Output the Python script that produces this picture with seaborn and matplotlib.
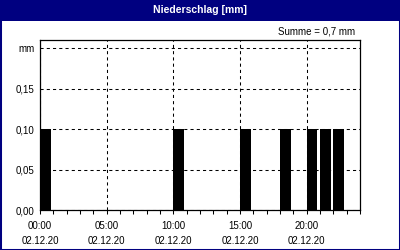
import numpy as np
import pandas as pd
import matplotlib
matplotlib.use("Agg")
import matplotlib.pyplot as plt
from matplotlib.patches import Rectangle
import seaborn as sns

# ---- data ----
hours = [0, 10, 15, 18, 20, 21, 22]          # start hour of each rain interval
precip = [0.1, 0.1, 0.1, 0.1, 0.1, 0.1, 0.1]  # mm per hour
x_tick_hours = [0, 5, 10, 15, 20]
x_tick_labels = ["00:00\n02.12.20", "05:00\n02.12.20", "10:00\n02.12.20",
                 "15:00\n02.12.20", "20:00\n02.12.20"]
y_ticks = [0.0, 0.05, 0.10, 0.15, 0.20]
y_tick_labels = ["0,00", "0,05", "0,10", "0,15", "mm"]
title = "Niederschlag [mm]"
sum_label = "Summe = 0,7 mm"

sns.set_style("white")
plt.rcParams["font.family"] = ["Liberation Sans", "DejaVu Sans"]

NAVY = "#000080"
fig = plt.figure(figsize=(4, 2.5), dpi=100)
fig.patch.set_facecolor("white")

# title bar + border
fig.patches.append(Rectangle((0, 1 - 21 / 250), 1, 21 / 250, transform=fig.transFigure,
                             facecolor=NAVY, edgecolor="none", zorder=0))
fig.patches.append(Rectangle((0, 0), 1, 1, transform=fig.transFigure, fill=False,
                             edgecolor=NAVY, linewidth=2.2, zorder=1))
fig.text(0.5, 1 - 10 / 250, title, color="white", fontweight="bold", fontsize=7.5,
         ha="center", va="center")
fig.text(355 / 400, 1 - 31 / 250, sum_label, ha="right", va="center", fontsize=7,
         color="black")

ax = fig.add_axes([40 / 400, 40 / 250, 320 / 400, 170 / 250])
df = pd.DataFrame({"hour": np.array(hours) + 0.4, "mm": precip})
sns.barplot(data=df, x="hour", y="mm", native_scale=True, color="black",
            saturation=1, errorbar=None, linewidth=0, orient="x", ax=ax)

ax.set_xlim(0, 24)
ax.set_ylim(0, 0.2104)
ax.set_xticks(x_tick_hours)
ax.set_xticklabels(x_tick_labels, linespacing=1.6)
ax.set_xticks(range(25), minor=True)
ax.tick_params(axis="x", which="both", direction="out", length=3, width=0.75,
               pad=5, labelsize=7, bottom=True, colors="black")
ax.set_yticks(y_ticks)
ax.set_yticklabels(y_tick_labels)
ax.tick_params(axis="y", length=0, pad=4, labelsize=7, colors="black")
ax.grid(True, which="major", color="black", linestyle=(0, (3, 3)), linewidth=0.75)
ax.set_axisbelow(True)
for s in ax.spines.values():
    s.set_visible(True)
    s.set_color("black")
    s.set_linewidth(0.9)
ax.set_xlabel("")
ax.set_ylabel("")

fig.savefig("out.png", dpi=100)
